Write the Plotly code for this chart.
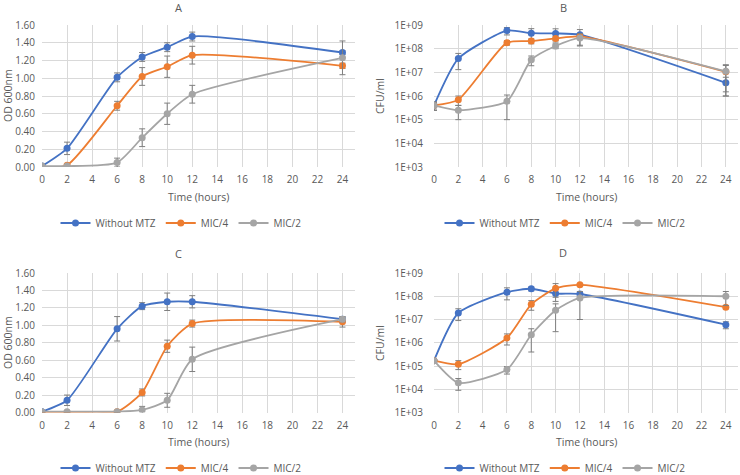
import plotly.graph_objects as go

# Sampling times (hours)
hours = [0, 2, 6, 8, 10, 12, 24]
series_names = ["Without MTZ", "MIC/4", "MIC/2"]
colors = ["#4472C4", "#ED7D31", "#A5A5A5"]

# Panel A - OD 600nm
a_without = [0.01, 0.21, 1.01, 1.24, 1.35, 1.47, 1.29]
a_without_err = [0.01, 0.07, 0.05, 0.05, 0.05, 0.05, 0.02]
a_mic4 = [0.00, 0.02, 0.69, 1.02, 1.13, 1.26, 1.14]
a_mic4_err = [0.00, 0.01, 0.05, 0.10, 0.12, 0.10, 0.03]
a_mic2 = [0.01, 0.01, 0.05, 0.33, 0.60, 0.82, 1.23]
a_mic2_err = [0.00, 0.01, 0.05, 0.10, 0.12, 0.10, 0.19]

# Panel B - CFU/ml
b_without = [4e5, 3.8e7, 5.8e8, 4.5e8, 4.4e8, 3.9e8, 3.6e6]
b_without_err = [1.5e5, 2.5e7, 2e8, 2.5e8, 2.5e8, 2.5e8, 2.6e6]
b_mic4 = [4e5, 7e5, 1.8e8, 2.1e8, 2.7e8, 3.3e8, 1.05e7]
b_mic4_err = [1.5e5, 3e5, 4e7, 5e7, 5e7, 5e7, 9e6]
b_mic2 = [4e5, 2.5e5, 6e5, 3.4e7, 1.3e8, 2.8e8, 1.1e7]
b_mic2_err = [1.5e5, 1.5e5, 5e5, 1.5e7, 3e7, 1.5e8, 1e7]

# Panel C - OD 600nm
c_without = [0.01, 0.14, 0.96, 1.22, 1.27, 1.27, 1.07]
c_without_err = [0.00, 0.06, 0.14, 0.04, 0.10, 0.07, 0.02]
c_mic4 = [0.00, 0.00, 0.01, 0.23, 0.76, 1.02, 1.04]
c_mic4_err = [0.00, 0.00, 0.01, 0.04, 0.07, 0.04, 0.06]
c_mic2 = [0.01, 0.01, 0.01, 0.03, 0.14, 0.61, 1.07]
c_mic2_err = [0.00, 0.00, 0.01, 0.04, 0.08, 0.14, 0.03]

# Panel D - CFU/ml
d_without = [1.7e5, 1.9e7, 1.5e8, 2.1e8, 1.3e8, 1.25e8, 6e6]
d_without_err = [2e4, 1e7, 8e7, 4e7, 7e7, 3e7, 2e6]
d_mic4 = [1.7e5, 1.2e5, 1.6e6, 4.5e7, 2.2e8, 3.1e8, 3.4e7]
d_mic4_err = [2e4, 5e4, 8e5, 2e7, 1.3e8, 3e7, 5e6]
d_mic2 = [1.7e5, 1.9e4, 7e4, 2.2e6, 2.5e7, 8.5e7, 1e8]
d_mic2_err = [2e4, 1e4, 2.5e4, 1.8e6, 2.2e7, 7.5e7, 6e7]

od_ticks = [0, 0.2, 0.4, 0.6, 0.8, 1.0, 1.2, 1.4, 1.6]
cfu_tickvals = [1e3, 1e4, 1e5, 1e6, 1e7, 1e8, 1e9]
cfu_ticktext = ["1E+03", "1E+04", "1E+05", "1E+06", "1E+07", "1E+08", "1E+09"]

panels = [
    ("A", "x", "y", "legend", [a_without, a_mic4, a_mic2], [a_without_err, a_mic4_err, a_mic2_err]),
    ("B", "x2", "y2", "legend2", [b_without, b_mic4, b_mic2], [b_without_err, b_mic4_err, b_mic2_err]),
    ("C", "x3", "y3", "legend3", [c_without, c_mic4, c_mic2], [c_without_err, c_mic4_err, c_mic2_err]),
    ("D", "x4", "y4", "legend4", [d_without, d_mic4, d_mic2], [d_without_err, d_mic4_err, d_mic2_err]),
]

FONT = "Open Sans"
TXT = "#595959"
GRID = "#D9D9D9"
W, H = 740, 475

fig = go.Figure()
for title, xa, ya, leg, vals, errs in panels:
    for name, color, v, e in zip(series_names, colors, vals, errs):
        fig.add_trace(go.Scatter(
            x=hours, y=v, name=name, xaxis=xa, yaxis=ya, legend=leg,
            mode="lines+markers",
            line=dict(color=color, width=1.8, shape="spline", smoothing=0.6),
            marker=dict(color=color, size=7),
            error_y=dict(type="data", array=e, color="#7F7F7F", thickness=1, width=3),
        ))

# plot areas in pixels: (left, right, top, bottom)
left_px = (42, 355)
right_px = (434, 738)
top_px = (25, 167)
bot_px = (273, 412.5)

def xdom(px):
    return [px[0] / W, px[1] / W]

def ydom(px):
    return [1 - px[1] / H, 1 - px[0] / H]

def xaxis(domain, anchor):
    return dict(domain=domain, anchor=anchor, range=[0, 25], tick0=0, dtick=2,
                showgrid=True, gridcolor=GRID, gridwidth=1, zeroline=False, automargin=False,
                showline=False, ticks="", ticklabelstandoff=5,
                tickfont=dict(size=10, color=TXT, family=FONT))

def od_axis(domain, anchor):
    return dict(domain=domain, anchor=anchor, range=[0, 1.6], tickvals=od_ticks, tickformat=".2f",
                showgrid=True, gridcolor=GRID, zeroline=False, showline=False, ticks="",
                automargin=False, ticklabelstandoff=6,
                tickfont=dict(size=10, color=TXT, family=FONT))

def cfu_axis(domain, anchor):
    return dict(domain=domain, anchor=anchor, type="log", range=[3, 9],
                tickvals=cfu_tickvals, ticktext=cfu_ticktext,
                showgrid=True, gridcolor=GRID, zeroline=False, showline=False, ticks="",
                automargin=False, ticklabelstandoff=10,
                tickfont=dict(size=10, color=TXT, family=FONT))

def legend(x, y):
    return dict(x=x / W, y=1 - y / H, xanchor="center", yanchor="middle", orientation="h",
                font=dict(size=10, color=TXT, family=FONT), bgcolor="rgba(0,0,0,0)",
                itemwidth=30, tracegroupgap=0)

fig.update_layout(
    width=W, height=H,
    margin=dict(l=0, r=0, t=0, b=0, autoexpand=False),
    paper_bgcolor="white", plot_bgcolor="white",
    showlegend=True,
    xaxis=xaxis(xdom(left_px), "y"), yaxis=od_axis(ydom(top_px), "x"),
    xaxis2=xaxis(xdom(right_px), "y2"), yaxis2=cfu_axis(ydom(top_px), "x2"),
    xaxis3=xaxis(xdom(left_px), "y3"), yaxis3=od_axis(ydom(bot_px), "x3"),
    xaxis4=xaxis(xdom(right_px), "y4"), yaxis4=cfu_axis(ydom(bot_px), "x4"),
    legend=legend(181, 223),
    legend2=legend(565, 223),
    legend3=legend(181, 468),
    legend4=legend(565, 468),
)

def label(text, cx, cy, size=10.5, angle=0):
    fig.add_annotation(text=text, x=cx / W, y=1 - cy / H, xref="paper", yref="paper",
                       showarrow=False, xanchor="center", yanchor="middle", textangle=angle,
                       font=dict(size=size, color=TXT, family=FONT))

# panel titles
for title, cx, cy in [("A", 178, 7), ("B", 563, 7), ("C", 178, 253), ("D", 563, 252)]:
    label(title, cx, cy, size=11)

# axis titles
label("Time (hours)", 198, 197)
label("Time (hours)", 586, 197)
label("Time (hours)", 198, 442)
label("Time (hours)", 586, 442)
label("OD 600nm", 8, 96, angle=-90)
label("OD 600nm", 8, 343, angle=-90)
label("CFU/ml", 380, 96, angle=-90)
label("CFU/ml", 380, 343, angle=-90)

# drop the page's default body margin so the figure fills the window
fig.write_html("out.html", config={"displayModeBar": False},
               post_script="document.body.style.margin='0';document.body.style.overflow='hidden';")
